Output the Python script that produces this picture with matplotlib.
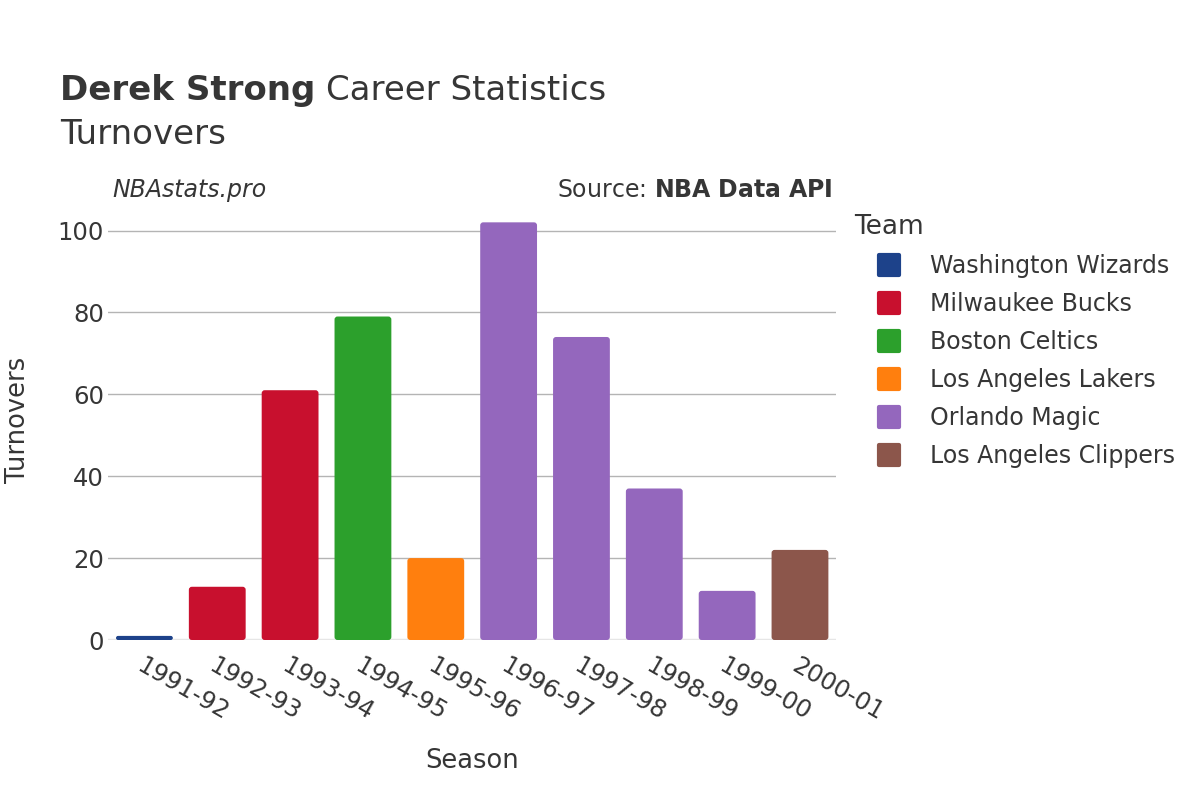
import matplotlib
matplotlib.use("Agg")
import matplotlib.pyplot as plt
from matplotlib.lines import Line2D
from matplotlib.markers import MarkerStyle
from matplotlib.patches import FancyBboxPatch

# career turnovers by season
seasons = ["1991-92", "1992-93", "1993-94", "1994-95", "1995-96",
           "1996-97", "1997-98", "1998-99", "1999-00", "2000-01"]
turnovers = [1, 13, 61, 79, 20, 102, 74, 37, 12, 22]
teams = ["Washington Wizards", "Milwaukee Bucks", "Milwaukee Bucks", "Boston Celtics",
         "Los Angeles Lakers", "Orlando Magic", "Orlando Magic", "Orlando Magic",
         "Orlando Magic", "Los Angeles Clippers"]

team_order = ["Washington Wizards", "Milwaukee Bucks", "Boston Celtics",
              "Los Angeles Lakers", "Orlando Magic", "Los Angeles Clippers"]
team_colors = {
    "Washington Wizards": "#1d428a",
    "Milwaukee Bucks": "#c8102e",
    "Boston Celtics": "#2ca02c",
    "Los Angeles Lakers": "#ff7f0e",
    "Orlando Magic": "#9467bd",
    "Los Angeles Clippers": "#8c564b",
}

TXT = "#363636"
plt.rcParams['font.family'] = ['DejaVu Sans']

fig = plt.figure(figsize=(12, 8), dpi=100)
ax = fig.add_axes([0.09, 0.2, 0.607, 0.54])

x = range(len(seasons))
ax.set_xlim(-0.5, len(seasons) - 0.5)
ax.set_ylim(0, 105.5)
bars = ax.bar(x, turnovers, width=0.78, color=[team_colors[t] for t in teams], zorder=3)

# swap plain rectangles for slightly rounded ones
fig.canvas.draw()
px_x = ax.transData.transform((1, 0))[0] - ax.transData.transform((0, 0))[0]
px_y = ax.transData.transform((0, 1))[1] - ax.transData.transform((0, 0))[1]
for b in bars:
    b.set_visible(False)
    r = 3.0 / px_x
    fb = FancyBboxPatch((b.get_x(), b.get_y()), b.get_width(), b.get_height(),
                        boxstyle="round,pad=0,rounding_size=%f" % min(r, b.get_height() * px_y / px_x / 2),
                        mutation_aspect=px_x / px_y,
                        facecolor=b.get_facecolor(), edgecolor="none", zorder=3)
    ax.add_patch(fb)

ax.set_yticks([0, 20, 40, 60, 80, 100])
ax.grid(axis="y", color="#b4b4b4", linewidth=1, zorder=0)
ax.axhline(0, color="#e6e6e6", linewidth=2.5, zorder=2)
for s in ax.spines.values():
    s.set_visible(False)
ax.tick_params(axis="both", length=0, labelsize=17.5, labelcolor=TXT)
ax.tick_params(axis="y", pad=3)
ax.set_xticks(list(x))
ax.set_xticklabels(seasons, rotation=-30, ha="left", va="top", rotation_mode="anchor")
ax.tick_params(axis="x", pad=10)

ax.set_xlabel("Season", fontsize=18.5, color=TXT, labelpad=16)
ax.set_ylabel("Turnovers", fontsize=18.5, color=TXT, va="center")
ax.yaxis.set_label_coords(18 / 1200, 1 - 420 / 800, transform=fig.transFigure)

# titles
fig.text(0.05, 0.875, "Derek Strong", fontsize=24.5, fontweight="bold", color=TXT, va="baseline")
fig.text(0.2715, 0.875, "Career Statistics", fontsize=24.5, color=TXT, va="baseline")
fig.text(0.05, 0.82, "Turnovers", fontsize=24.5, color=TXT, va="baseline")
fig.text(0.094, 0.754, "NBAstats.pro", fontsize=17, style="italic", color=TXT, va="baseline")
fig.text(0.694, 0.754, "Source: $\\bf{NBA\\ Data\\ API}$", fontsize=17, color=TXT,
         va="baseline", ha="right")

sq = MarkerStyle("s", joinstyle="round")
handles = [Line2D([], [], linestyle="none", marker=sq, markersize=14,
                  markerfacecolor=team_colors[t], markeredgecolor=team_colors[t],
                  markeredgewidth=3, label=t) for t in team_order]
leg = fig.legend(handles=handles, title="Team", loc="upper left",
                 bbox_to_anchor=(0.694, 0.759), frameon=False, fontsize=17,
                 title_fontsize=19, handlelength=2.97,
                 handletextpad=0.25, labelspacing=0.595)
leg._legend_box.align = "left"
for t in leg.get_texts():
    t.set_color(TXT)
leg.get_title().set_color(TXT)

fig.savefig("out.png", dpi=100, facecolor="white")
